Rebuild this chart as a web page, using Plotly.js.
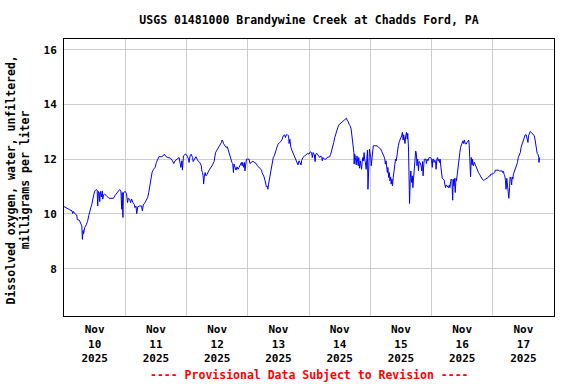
<!DOCTYPE html>
<html>
<head>
<meta charset="utf-8">
<script src="https://cdn.plot.ly/plotly-3.0.1.min.js"></script>
<style>html,body{margin:0;padding:0;background:#fff;}#chart{width:576px;height:384px;}</style>
</head>
<body>
<div id="chart"></div>
<script>
// Hours since 2025-11-10 00:00 (local station time)
const hoursSinceStart = [
0,1.05,2.1,3.15,3.4,3.7,4.2,5.0,5.2,6.0,6.6,7.0,7.2,7.5,7.7,8.1,8.7,9.2,9.7,10.1,10.5,10.9,11.3,11.7,12.1,12.6,13.0,13.2,13.5,13.8,14.0,14.3,14.7,15.0,15.2,15.5,15.9,16.5,17.6,18.5,19.4,19.9,20.5,21.2,21.8,22.3,22.6,22.8,23.1,23.3,24.0,24.5,24.9,25.2,25.7,26.1,26.5,27.0,27.5,27.8,28.2,28.5,28.9,29.6,30.4,30.7,31.1,31.7,32.3,32.8,33.2,33.6,34.0,34.5,35.1,35.7,36.2,36.7,37.2,38.2,38.8,39.3,39.9,40.7,41.7,42.5,43.0,43.5,44.3,
45.1,45.8,46.2,46.4,46.8,47.5,48.0,48.4,48.8,49.0,49.4,49.8,50.4,50.6,51.1,51.7,52.2,52.7,53.2,53.8,54.0,54.3,54.6,54.7,55.0,55.3,55.6,56.1,56.7,57.2,57.7,58.2,58.8,59.1,59.4,59.9,60.5,60.9,61.4,61.7,61.9,62.2,62.5,62.7,63.1,63.5,64.0,64.4,64.8,65.2,65.4,65.8,66.1,66.4,66.6,67.0,67.4,67.8,68.2,68.6,69.0,69.5,69.8,70.0,70.4,70.7,70.9,71.2,71.5,72.0,72.5,72.9,73.3,73.7,74.2,74.8,75.3,75.8,76.3,76.9,77.4,77.6,78.0,78.4,78.8,79.1,79.3,79.6,79.9,80.1,80.4,80.7,80.9,81.2,81.6,82.0,82.4,82.8,83.1,83.5,83.9,84.5,85.0,85.5,85.9,86.4,86.8,87.1,87.6,88.0,88.2,88.5,88.9,89.4,89.8,90.2,90.6,91.0,91.4,91.7,92.1,
92.9,93.1,93.6,94.3,94.9,95.5,96.0,96.5,97.0,97.3,97.6,98.1,98.4,98.6,99.1,99.7,100.2,100.6,101.0,101.2,101.5,102.0,102.6,103.1,103.6,104.1,104.5,104.9,105.3,105.7,106.1,106.5,106.9,107.3,107.8,108.3,108.9,109.4,109.9,110.4,110.7,110.9,111.3,111.7,112.1,112.5,112.8,113.0,113.3,113.6,113.7,113.9,114.2,114.5,114.8,115.0,115.3,115.5,115.8,116.1,116.3,116.6,116.8,117.1,117.3,117.6,117.8,118.1,118.4,118.6,118.9,119.1,119.4,119.7,119.9,120.2,120.4,120.7,121.0,121.2,121.9,122.7,123.2,123.7,124.1,124.5,124.9,125.3,125.7,125.9,126.2,126.4,126.7,126.9,127.2,127.5,127.7,128.0,128.2,128.5,128.7,129.0,129.4,129.6,129.9,130.2,130.4,130.7,131.0,131.4,131.7,132.1,132.3,132.6,132.9,133.1,133.4,133.6,133.9,134.2,134.5,134.7,135.0,135.3,135.4,135.7,135.9,136.2,136.5,136.7,137.0,137.3,137.5,137.8,138.1,138.3,138.6,138.9,139.1,
139.5,139.9,140.2,140.5,140.7,141.0,141.2,141.8,142.0,142.3,142.6,143.1,143.6,144.0,144.3,144.5,144.8,145.0,145.3,145.6,145.8,146.1,146.4,146.6,146.9,147.1,147.4,147.7,147.9,148.2,148.6,149.0,149.2,149.5,149.8,150.2,150.6,151.0,151.2,151.5,151.7,152.0,152.3,152.5,152.8,153.0,153.3,153.6,153.8,154.1,154.4,154.6,154.9,155.1,155.4,155.7,155.9,156.3,156.6,156.9,157.2,157.6,157.9,158.3,158.6,158.8,159.1,159.3,159.6,159.9,160.1,160.4,160.8,161.2,161.6,162.0,162.4,162.8,163.1,163.5,163.9,164.3,164.7,165.1,165.6,166.2,166.6,167.0,167.2,167.7,168.3,168.8,169.0,169.6,170.1,170.6,171.1,171.7,171.9,172.2,172.5,172.7,173.0,173.2,173.5,173.8,174.1,174.3,174.6,174.8,175.1,175.4,175.6,175.9,176.1,176.5,176.9,177.3,177.7,178.0,178.4,178.8,179.1,179.5,179.9,180.3,180.7,181.1,181.5,181.8,182.0,182.4,182.7,183.1,183.5,183.9,184.3,184.6,184.8,185.2,185.4,185.7,186.0,186.1,186.4
];
// Dissolved oxygen, mg/L
const dissolvedOxygen = [
10.27,10.23,10.16,10.11,10.01,10.09,10.01,9.96,9.79,9.77,9.65,9.56,9.07,9.40,9.28,9.50,9.60,9.72,9.93,10.13,10.23,10.35,10.57,10.72,10.84,10.89,10.87,10.29,10.82,10.78,10.45,10.82,10.62,10.84,10.54,10.70,10.72,10.68,10.57,10.57,10.57,10.66,10.74,10.82,10.89,10.84,10.17,10.78,9.87,10.78,10.82,10.74,10.41,10.57,10.54,10.41,10.54,10.41,10.35,10.23,10.29,10.01,10.26,10.29,10.29,10.11,10.33,10.41,10.54,10.60,10.78,11.02,11.33,11.51,11.63,11.70,11.88,12.00,12.09,12.09,12.12,12.18,12.10,12.06,12.04,11.94,11.84,11.94,12.00,
12.06,11.70,11.94,11.60,12.12,12.18,12.16,12.09,12.00,11.88,12.12,12.18,12.06,11.91,12.00,12.09,12.00,11.91,11.88,11.76,11.57,11.51,11.30,11.09,11.39,11.51,11.39,11.45,11.57,11.63,11.72,11.79,11.91,12.06,12.24,12.33,12.43,12.49,12.55,12.61,12.70,12.67,12.57,12.55,12.49,12.43,12.45,12.30,12.24,12.06,11.94,11.88,11.84,11.51,11.82,11.70,11.60,11.72,11.63,11.70,11.79,11.88,11.76,11.88,11.70,11.88,11.57,11.88,12.00,12.00,12.00,11.84,11.88,11.91,11.91,11.88,11.84,11.76,11.70,11.63,11.60,11.51,11.45,11.35,11.21,11.09,10.99,11.02,10.90,11.06,11.23,11.35,11.45,11.67,11.84,12.06,12.12,12.21,12.33,12.45,12.55,12.61,12.65,12.73,12.85,12.89,12.79,12.89,12.89,12.85,12.57,12.73,12.43,12.30,12.21,12.16,12.06,12.00,11.91,11.79,11.94,
11.79,11.94,12.06,12.12,12.16,12.21,12.18,12.27,12.24,12.06,12.24,12.16,11.91,12.18,12.21,12.12,12.06,12.12,12.06,11.94,12.06,12.00,12.00,12.06,12.09,12.09,12.18,12.30,12.45,12.61,12.79,12.94,13.06,13.16,13.26,13.30,13.34,13.38,13.43,13.46,13.50,13.43,13.38,13.28,13.22,13.10,12.91,12.67,12.43,12.24,11.82,12.18,12.06,11.79,12.12,11.91,11.76,12.06,11.67,11.94,11.72,11.63,11.88,12.06,11.94,12.24,12.00,11.88,11.63,12.18,12.33,10.90,12.30,12.37,12.24,12.06,11.76,12.12,12.45,12.49,12.49,12.49,12.43,12.40,12.37,12.28,12.21,12.12,12.00,11.82,11.94,11.76,11.51,11.70,11.33,11.51,11.21,11.35,11.09,11.27,11.02,11.33,11.57,11.76,12.00,11.94,12.12,12.24,12.49,12.65,12.70,12.79,12.85,12.98,12.70,12.89,12.73,12.57,12.85,12.98,12.73,12.94,12.37,11.45,10.38,11.33,11.57,11.15,11.39,10.96,11.45,11.88,12.12,12.30,12.18,11.76,12.00,11.57,11.91,
11.88,11.76,11.57,11.91,11.39,11.82,12.00,12.00,11.84,12.00,11.94,12.06,12.06,12.00,11.70,12.00,12.00,11.88,11.96,11.91,11.63,12.00,12.06,11.94,12.00,11.88,12.00,11.70,11.51,11.30,11.27,11.23,11.09,10.96,11.06,11.02,10.96,11.06,10.96,11.18,11.27,11.23,10.50,11.27,11.02,11.30,10.78,11.30,11.21,11.45,11.76,11.88,12.06,12.24,12.43,12.52,12.61,12.67,12.57,12.70,12.57,12.55,12.61,12.65,12.70,12.49,12.00,11.35,12.06,11.79,12.00,11.76,11.88,11.79,11.63,11.57,11.51,11.45,11.39,11.30,11.27,11.23,11.23,11.27,11.30,11.33,11.39,11.39,11.45,11.45,11.48,11.51,11.60,11.60,11.60,11.57,11.57,11.57,11.51,11.55,11.43,11.39,11.21,10.90,11.30,11.02,10.84,10.57,10.96,11.35,11.30,11.06,11.35,11.27,11.45,11.57,11.60,11.76,11.88,12.06,12.18,12.24,12.43,12.55,12.70,12.82,12.89,12.89,12.73,12.61,12.85,12.94,13.01,12.98,12.94,12.91,12.85,12.70,12.55,12.37,12.21,12.18,12.06,11.88,12.06
];
const startDate = '2025-11-10';
const xRange = ['2025-11-10 00:00', '2025-11-18 00:00'];
const dayTickVals = ['2025-11-10 12:00','2025-11-11 12:00','2025-11-12 12:00','2025-11-13 12:00','2025-11-14 12:00','2025-11-15 12:00','2025-11-16 12:00','2025-11-17 12:00'];
const dayTickText = ['Nov<br>10<br>2025','Nov<br>11<br>2025','Nov<br>12<br>2025','Nov<br>13<br>2025','Nov<br>14<br>2025','Nov<br>15<br>2025','Nov<br>16<br>2025','Nov<br>17<br>2025'];
const yTickVals = [8, 10, 12, 14, 16];
const titleText = 'USGS 01481000 Brandywine Creek at Chadds Ford, PA';
const yTitleText = 'Dissolved oxygen, water, unfiltered,<br>milligrams per liter';
const footerText = '---- Provisional Data Subject to Revision ----';

function pad(n){ return (n < 10 ? '0' : '') + n; }
function hourToStamp(h){
  const base = Date.UTC(2025, 10, 10);
  const d = new Date(base + Math.round(h * 60) * 60000);
  return d.getUTCFullYear() + '-' + pad(d.getUTCMonth()+1) + '-' + pad(d.getUTCDate()) + ' ' + pad(d.getUTCHours()) + ':' + pad(d.getUTCMinutes());
}
const xs = hoursSinceStart.map(hourToStamp);

const FONT = '"DejaVu Sans Mono", "Liberation Mono", monospace';
const PLOT_W = 490, PLOT_H = 277;

const trace = {
  x: xs, y: dissolvedOxygen, type: 'scatter', mode: 'lines',
  line: {color: '#0000ff', width: 1},
  hoverinfo: 'skip'
};

const layout = {
  width: 576, height: 384,
  margin: {l: 64, r: 22, t: 39, b: 68},
  paper_bgcolor: '#ffffff', plot_bgcolor: '#ffffff',
  showlegend: false,
  font: {family: FONT, size: 11, color: '#000', weight: 'bold'},
  title: {text: titleText, font: {family: FONT, size: 11.5, color: '#000', weight: 'bold'}, x: 0.5, xref: 'paper', xanchor: 'center', y: 1 - 20/384, yanchor: 'middle'},
  xaxis: {
    type: 'date', range: xRange,
    tickmode: 'array', tickvals: dayTickVals, ticktext: dayTickText,
    showgrid: false, ticks: '', zeroline: false,
    showline: true, mirror: true, linecolor: '#000', linewidth: 1,
    tickfont: {family: FONT, size: 11, color: '#000', weight: 'bold'},
    ticklabelstandoff: 3,
    minor: {tickmode: 'linear', tick0: startDate, dtick: 86400000, showgrid: true, gridcolor: '#cccccc', gridwidth: 1, ticks: ''},
    fixedrange: true
  },
  yaxis: {
    range: [6.27, 16.39],
    tickmode: 'array', tickvals: yTickVals,
    showgrid: true, gridcolor: '#cccccc', gridwidth: 1,
    ticks: '', zeroline: false,
    showline: true, mirror: true, linecolor: '#000', linewidth: 1,
    tickfont: {family: FONT, size: 11, color: '#000', weight: 'bold'},
    ticklabelstandoff: 4,
    fixedrange: true
  },
  annotations: [
    {text: yTitleText, xref: 'paper', yref: 'paper', x: -46.5/PLOT_W, y: (316-180)/PLOT_H, xanchor: 'center', yanchor: 'middle', textangle: -90, showarrow: false,
     font: {family: FONT, size: 11.5, color: '#000', weight: 'bold'}},
    {text: footerText, xref: 'paper', yref: 'paper', x: 0.5, y: -(375-316)/PLOT_H, xanchor: 'center', yanchor: 'middle', showarrow: false,
     font: {family: FONT, size: 11.5, color: '#ff0000', weight: 'bold'}}
  ]
};

Plotly.newPlot('chart', [trace], layout, {staticPlot: true, displayModeBar: false});
</script>
</body>
</html>
